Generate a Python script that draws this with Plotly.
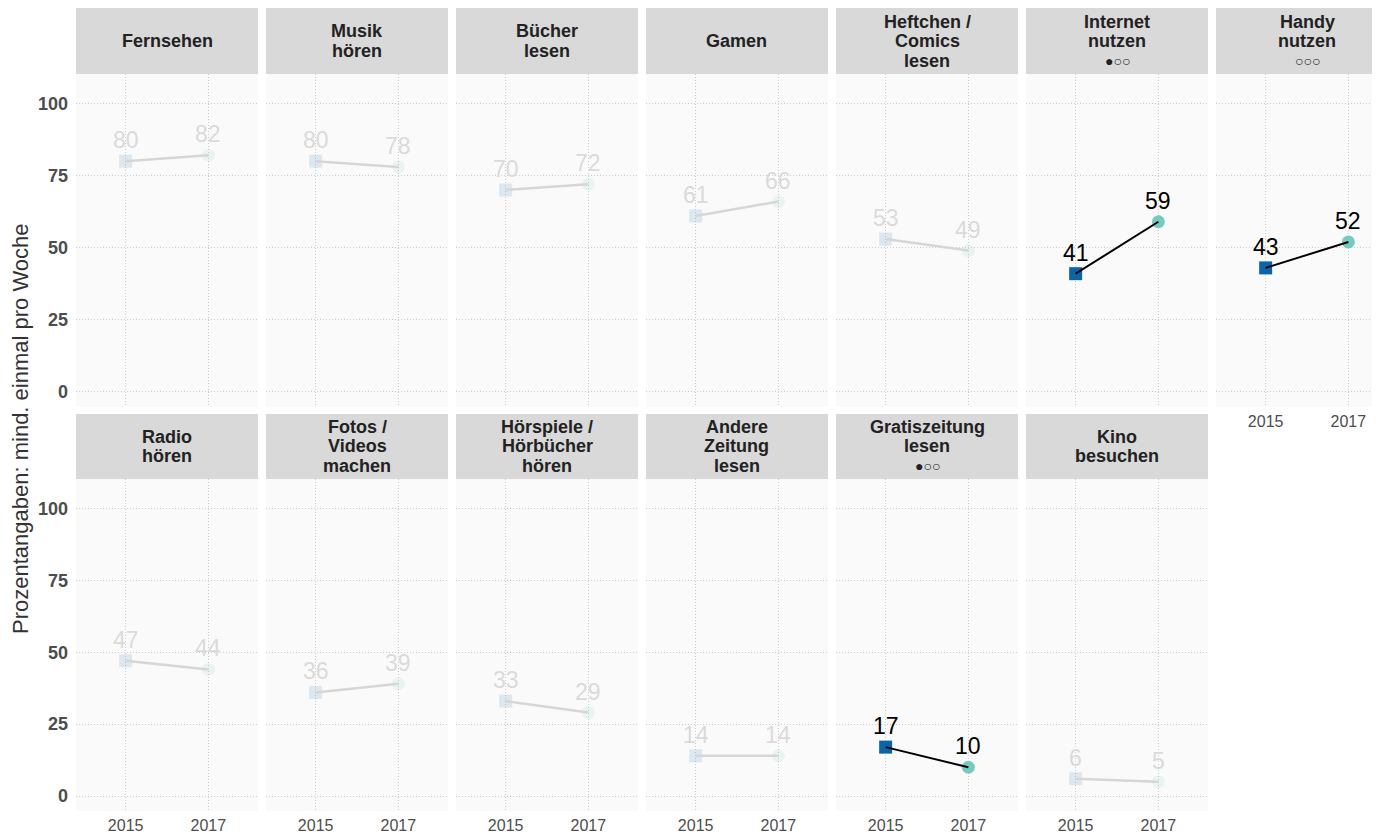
import plotly.graph_objects as go

# data
activities = ["Fernsehen", "Musik\nhören", "Bücher\nlesen", "Gamen", "Heftchen /\nComics\nlesen",
              "Internet\nnutzen", "Handy\nnutzen",
              "Radio\nhören", "Fotos /\nVideos\nmachen", "Hörspiele /\nHörbücher\nhören",
              "Andere\nZeitung\nlesen", "Gratiszeitung\nlesen", "Kino\nbesuchen"]
signif = ["", "", "", "", "", "●○○", "○○○", "", "", "", "", "●○○", ""]
years = ["2015", "2017"]
values_2015 = [80, 80, 70, 61, 53, 41, 43, 47, 36, 33, 14, 17, 6]
values_2017 = [82, 78, 72, 66, 49, 59, 52, 44, 39, 29, 14, 10, 5]
y_ticks = [0, 25, 50, 75, 100]

W, H = 1380, 834
OFF = 8  # page body margin, positions below are in window pixels
col_left, col_w, col_step = 76, 182, 190
strips = [(8, 74), (414, 479)]
plots = [(74, 407), (479, 811)]

blue = "#0B63A8"
teal = "#74CCBC"
ffont = "Arial, Liberation Sans, sans-serif"
grid = dict(showgrid=True, gridcolor="#CCCCCC", griddash="1px,2px", gridwidth=1,
            zeroline=False, showline=False, ticks="", fixedrange=True)


def px(x):
    return (x - OFF) / W


def py(y):
    return 1 - (y - OFF) / H


fig = go.Figure()
shapes = []
annots = []

for i, name in enumerate(activities):
    row, col = divmod(i, 7)
    ax = "" if i == 0 else str(i + 1)
    x0 = col_left + col * col_step
    x1 = min(x0 + col_w, W + OFF)
    vis = (x1 - x0) / col_w
    hl = signif[i] != ""
    vals = [values_2015[i], values_2017[i]]

    fig.add_trace(go.Scatter(
        x=years, y=vals, mode="markers", xaxis="x" + ax, yaxis="y" + ax,
        marker=dict(symbol=["square", "circle"], size=13, color=[blue, teal],
                    opacity=1.0 if hl else 0.12, line=dict(width=0)),
        hoverinfo="skip", showlegend=False))
    fig.add_trace(go.Scatter(
        x=years, y=vals, mode="lines", xaxis="x" + ax, yaxis="y" + ax,
        line=dict(color="black" if hl else "#D6D6D6", width=2 if hl else 2.5),
        hoverinfo="skip", showlegend=False))
    # value labels above the points (category index on the x axis)
    for j, v in enumerate(vals):
        annots.append(dict(
            xref="x" + ax, yref="y" + ax, x=j, y=v, text=str(v), showarrow=False,
            yshift=21, xanchor="center", yanchor="middle",
            font=dict(family=ffont, size=23, color="black" if hl else "#DADADA")))

    p0, p1 = plots[row]
    show_x = row == 1 or col == 6
    fig.update_layout(**{
        "xaxis" + ax: dict(
            grid, domain=[px(x0), px(x1)], anchor="y" + ax, type="category",
            range=[-0.6, -0.6 + 2.2 * vis], showticklabels=show_x, ticklabelstandoff=3,
            tickfont=dict(family=ffont, size=16, color="#4D4D4D")),
        "yaxis" + ax: dict(
            grid, domain=[py(p1), py(p0)], anchor="x" + ax,
            range=[-5.2, 110.2], tickvals=y_ticks,
            showticklabels=(col == 0), ticklabelstandoff=7,
            tickfont=dict(family=ffont, size=18, color="#4D4D4D", weight="bold")),
    })

    # strip header
    s0, s1 = strips[row]
    shapes.append(dict(type="rect", xref="paper", yref="paper", x0=px(x0), x1=px(x1),
                       y0=py(s1), y1=py(s0), fillcolor="#D9D9D9",
                       line=dict(width=0), layer="below"))
    lines = name.split("\n")
    if hl:
        lines.append(signif[i])
    cy = (s0 + s1) / 2
    n = len(lines)
    for k, txt in enumerate(lines):
        is_sig = hl and k == n - 1
        ly = cy + (k - (n - 1) / 2) * 19.5
        annots.append(dict(
            xref="paper", yref="paper", x=px(x0 + col_w / 2), y=py(ly),
            text=txt if is_sig else "<b>" + txt + "</b>", showarrow=False,
            xanchor="center", yanchor="middle",
            font=dict(family=ffont, size=14 if is_sig else 18, color="#222222")))

annots.append(dict(
    xref="paper", yref="paper", x=px(20), y=py(429), textangle=-90,
    text="Prozentangaben: mind. einmal pro Woche", showarrow=False,
    xanchor="center", yanchor="middle",
    font=dict(family=ffont, size=22, color="#333333")))

fig.update_layout(
    width=W, height=H, margin=dict(l=0, r=0, t=0, b=0),
    paper_bgcolor="white", plot_bgcolor="#FAFAFA",
    shapes=shapes, annotations=annots, showlegend=False)

fig.write_html("out.html")
